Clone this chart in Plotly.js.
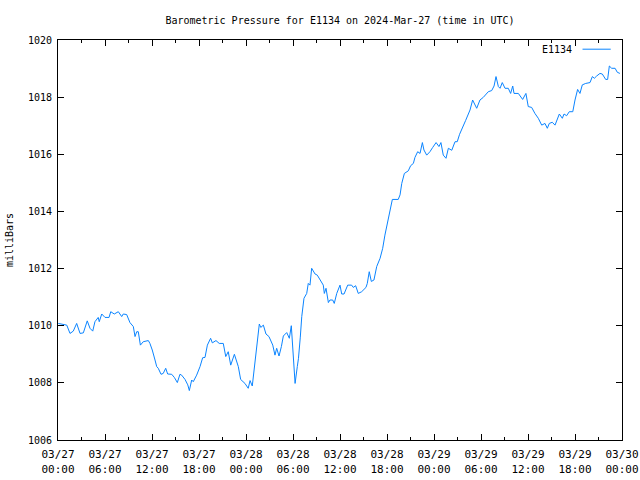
<!DOCTYPE html>
<html>
<head>
<meta charset="utf-8">
<script src="https://cdn.plot.ly/plotly-3.0.1.min.js"></script>
<style>html,body{margin:0;padding:0;background:#fff;}#chart{width:640px;height:480px;}</style>
</head>
<body>
<div id="chart"></div>
<script>
// Hours since 2024-03-27 00:00 UTC
const hoursSinceStart = [
0.04,1.11,1.53,1.95,2.39,2.81,3.23,3.74,4.09,4.43,4.72,5.14,5.27,5.58,6.00,6.51,6.73,7.19,7.70,8.13,
8.34,8.77,9.19,9.61,9.83,10.05,10.25,10.51,10.89,11.53,11.74,12.04,12.38,12.60,12.80,13.15,13.44,13.75,14.00,14.51,
14.85,15.23,15.57,15.79,16.21,16.56,16.76,17.07,17.27,17.70,18.13,18.47,18.77,19.06,19.49,19.70,20.17,20.59,21.10,21.41,
21.74,22.05,22.51,23.02,23.32,23.87,24.29,24.51,24.80,25.02,25.44,25.70,25.88,26.21,26.55,26.94,27.41,27.70,27.92,28.21,
28.51,28.76,29.20,29.53,29.78,30.00,30.26,30.55,30.70,30.93,31.11,31.40,31.75,31.95,32.17,32.39,32.81,33.10,33.54,33.87,
34.00,34.21,34.51,34.72,35.07,35.27,35.58,36.00,36.22,36.51,36.98,37.49,37.70,38.00,38.34,38.77,39.32,39.49,39.74,40.00,
40.34,40.68,41.11,41.45,41.74,42.04,42.29,42.68,43.44,43.66,43.88,44.21,44.72,45.02,45.36,45.57,45.92,46.21,46.51,46.72,
47.07,47.49,47.83,48.26,48.64,48.89,49.19,49.53,49.83,50.26,50.68,50.97,51.26,51.74,52.04,52.60,52.94,53.45,53.87,54.29,
54.93,55.37,55.66,55.91,56.21,56.43,56.72,57.06,57.49,57.79,58.05,58.21,58.76,59.32,59.74,60.04,60.47,60.89,61.32,61.75,
62.17,62.46,62.72,63.10,63.45,64.00,64.38,64.60,64.94,65.27,65.71,66.00,66.34,66.64,66.93,67.36,67.91,68.21,68.46,68.77,
69.19,69.49,69.92,70.17,70.38,70.68,71.11,71.40,71.74
];
const pressure = [
1010.08,1010.02,1009.73,1009.81,1010.08,1009.73,1009.75,1010.17,1009.91,1009.81,1010.14,1010.29,1010.14,1010.41,1010.29,1010.29,1010.49,1010.41,1010.49,1010.32,
1010.41,1010.39,1010.11,1009.97,1009.62,1009.79,1009.79,1009.32,1009.44,1009.48,1009.38,1009.15,1008.80,1008.57,1008.51,1008.30,1008.33,1008.51,1008.31,1008.30,
1008.19,1008.01,1008.30,1008.27,1008.12,1007.93,1007.73,1008.10,1008.04,1008.27,1008.57,1008.88,1008.89,1009.32,1009.56,1009.40,1009.48,1009.38,1009.38,1008.92,
1009.09,1008.62,1009.00,1008.57,1008.12,1007.98,1007.81,1008.08,1007.89,1008.45,1009.50,1010.06,1009.94,1010.02,1009.71,1009.62,1009.32,1008.97,1009.21,1008.94,
1009.27,1009.64,1009.76,1009.56,1010.00,1009.20,1007.98,1008.57,1008.86,1009.60,1010.32,1010.96,1011.13,1011.48,1011.42,1012.01,1011.81,1011.77,1011.54,1011.42,
1011.13,1011.31,1010.81,1010.90,1010.90,1010.78,1011.13,1011.42,1011.11,1011.11,1011.42,1011.42,1011.34,1011.40,1011.13,1011.19,1011.34,1011.48,1011.89,1011.55,
1011.60,1012.07,1012.36,1012.71,1013.17,1013.58,1013.87,1014.42,1014.42,1014.58,1014.98,1015.33,1015.42,1015.60,1015.68,1015.89,1016.09,1016.03,1016.41,1016.15,
1015.97,1016.09,1016.24,1016.41,1016.27,1016.41,1015.97,1015.86,1016.21,1016.14,1016.44,1016.44,1016.70,1016.97,1017.18,1017.55,1017.90,1017.61,1017.90,1017.99,
1018.19,1018.23,1018.39,1018.72,1018.37,1018.31,1018.51,1018.31,1018.31,1018.13,1018.39,1018.13,1018.13,1017.92,1018.13,1017.67,1017.64,1017.43,1017.26,1017.02,
1017.08,1016.91,1017.08,1017.12,1017.02,1017.41,1017.26,1017.41,1017.35,1017.49,1017.49,1017.90,1018.27,1018.13,1018.43,1018.48,1018.51,1018.72,1018.66,1018.74,
1018.83,1018.81,1018.62,1018.62,1019.09,1019.01,1019.01,1018.87,1018.83
];
const seriesName = 'E1134';
const startMs = Date.UTC(2024, 2, 27, 0, 0, 0);
const tickHours = [0, 6, 12, 18, 24, 30, 36, 42, 48, 54, 60, 66, 72];
const yTicks = [1006, 1008, 1010, 1012, 1014, 1016, 1018, 1020];

function pad(n){ return (n < 10 ? '0' : '') + n; }
function toStr(ms){
  const d = new Date(ms);
  return d.getUTCFullYear() + '-' + pad(d.getUTCMonth()+1) + '-' + pad(d.getUTCDate()) + ' ' +
         pad(d.getUTCHours()) + ':' + pad(d.getUTCMinutes()) + ':' + pad(d.getUTCSeconds());
}
function tickLabel(ms){
  const d = new Date(ms);
  return pad(d.getUTCMonth()+1) + '/' + pad(d.getUTCDate()) + '<br>' + pad(d.getUTCHours()) + ':' + pad(d.getUTCMinutes());
}
const times = hoursSinceStart.map(h => toStr(startMs + Math.round(h * 3600000 / 60000) * 60000));
const tickvals = tickHours.map(h => toStr(startMs + h * 3600000));
const ticktext = tickHours.map(h => tickLabel(startMs + h * 3600000));

const font = {family: '"DejaVu Sans Mono", "Liberation Mono", monospace', size: 10, color: '#000'};
const xfont = {family: '"DejaVu Sans Mono", "Liberation Mono", monospace', size: 11, color: '#000'};

const trace = {
  x: times, y: pressure, type: 'scatter', mode: 'lines', name: seriesName,
  line: {color: '#0a84ff', width: 1}, showlegend: false
};

const layout = {
  width: 640, height: 480,
  margin: {l: 58, r: 18, t: 40, b: 40, pad: 0},
  paper_bgcolor: '#fff', plot_bgcolor: '#fff',
  font: font,
  title: {text: 'Barometric Pressure for E1134 on 2024-Mar-27 (time in UTC)', font: font,
          x: 0.5, xref: 'paper', y: 1 - 20/480, yref: 'container', yanchor: 'middle'},
  xaxis: {
    type: 'date', range: [tickvals[0], tickvals[tickvals.length-1]],
    tickmode: 'array', tickvals: tickvals, ticktext: ticktext,
    ticks: 'inside', ticklen: 6, tickcolor: '#000', tickwidth: 1,
    minor: {dtick: 3 * 3600000, ticks: 'inside', ticklen: 3, tickcolor: '#000', showgrid: false},
    showline: true, linecolor: '#000', linewidth: 1, mirror: 'ticks',
    showgrid: false, zeroline: false, tickfont: xfont, tickangle: 0, ticklabelstandoff: 4
  },
  yaxis: {
    range: [1006, 1020], tickmode: 'array', tickvals: yTicks, ticktext: yTicks.map(String),
    ticks: 'inside', ticklen: 6, tickcolor: '#000', tickwidth: 1,
    showline: true, linecolor: '#000', linewidth: 1, mirror: 'ticks',
    showgrid: false, zeroline: false, tickfont: font, ticklabelstandoff: 3,
    title: {text: 'milliBars', font: font, standoff: 12}
  },
  annotations: [{
    text: seriesName, xref: 'paper', yref: 'paper', x: 0.915, y: 0.977,
    xanchor: 'right', yanchor: 'middle', showarrow: false, font: font
  }],
  shapes: [{
    type: 'line', xref: 'paper', yref: 'paper', x0: 0.93, x1: 0.98, y0: 0.977, y1: 0.977,
    line: {color: '#0a84ff', width: 1}
  }]
};

Plotly.newPlot('chart', [trace], layout, {displayModeBar: false, staticPlot: true});
</script>
</body>
</html>
